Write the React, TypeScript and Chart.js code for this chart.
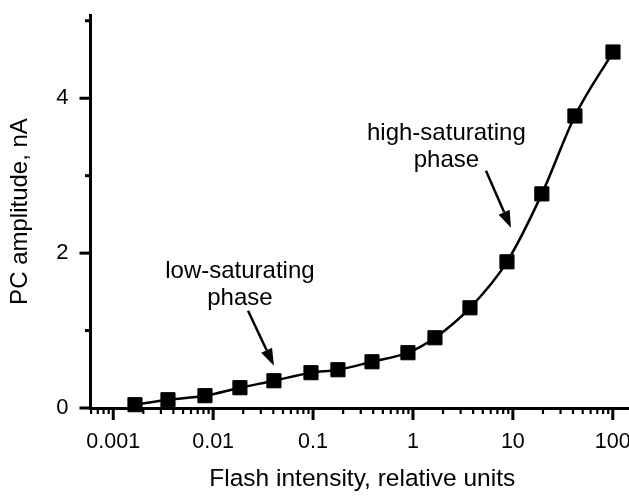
import React, { useEffect, useRef } from 'react';
import { Chart, registerables } from 'chart.js';

Chart.register(...registerables);

// ---- data ----
const intensities = [0.00165, 0.00353, 0.00828, 0.01854, 0.0406, 0.0953, 0.1775, 0.389, 0.891, 1.66, 3.72, 8.73, 19.5, 41.8, 100.5];
const amplitudes = [0.043, 0.107, 0.159, 0.262, 0.352, 0.456, 0.494, 0.597, 0.714, 0.907, 1.294, 1.888, 2.765, 3.771, 4.597];

const xMajorTicks = [0.001, 0.01, 0.1, 1, 10, 100];
const xMajorLabels = ['0.001', '0.01', '0.1', '1', '10', '100'];
const yTicks = [0, 1, 2, 3, 4, 5];
const yTickLabels = ['0', '', '2', '', '4', ''];

const xTitle = 'Flash intensity, relative units';
const yTitle = 'PC amplitude, nA';

const annotationTexts = [
  ['low-saturating', 'phase'],
  ['high-saturating', 'phase'],
];
// anchors in data coordinates: [text x, text y, arrow start x, y, arrow tip x, y]
const annotationAnchors = [
  [0.01854, 1.77, 0.02234, 1.256, 0.04055, 0.547],
  [2.16, 3.54, 5.38, 3.065, 9.57, 2.327],
];

const X_MIN = 0.000592;
const CANVAS_W = 634;
const CANVAS_H = 497;
const X_MAX = Math.pow(10, -3.228 + (CANVAS_W - 90.5) / 99.9);
const Y_MAX = 5.075;

const FONT = "'Liberation Sans', Arial, Helvetica, sans-serif";

function buildXTicks() {
  const out: { value: number; major: boolean }[] = [];
  for (let e = -4; e <= 2; e++) {
    for (let k = 1; k <= 9; k++) {
      const v = k === 1 ? Math.pow(10, e) : k * Math.pow(10, e);
      if (v >= X_MIN && v <= X_MAX) out.push({ value: v, major: k === 1 });
    }
  }
  return out;
}

const customDraw = {
  id: 'customDraw',
  afterDraw(chart: any) {
    const { ctx, chartArea } = chart;
    const x = chart.scales.x;
    const y = chart.scales.y;
    ctx.save();
    ctx.strokeStyle = '#000';
    ctx.lineCap = 'butt';
    // x ticks
    for (const t of x.ticks) {
      const px = x.getPixelForValue(t.value);
      const len = t.major ? 12 : 6;
      ctx.lineWidth = t.major ? 3 : 2.2;
      ctx.beginPath();
      ctx.moveTo(px, chartArea.bottom);
      ctx.lineTo(px, chartArea.bottom + len);
      ctx.stroke();
    }
    // y ticks
    y.ticks.forEach((t: any, i: number) => {
      const py = y.getPixelForValue(t.value);
      const major = yTickLabels[i] !== '';
      const len = major ? 11 : 5.5;
      ctx.lineWidth = 3;
      ctx.beginPath();
      ctx.moveTo(chartArea.left, py);
      ctx.lineTo(chartArea.left - len, py);
      ctx.stroke();
    });
    // annotations
    ctx.fillStyle = '#000';
    ctx.font = `24px ${FONT}`;
    ctx.textAlign = 'center';
    ctx.textBaseline = 'middle';
    annotationTexts.forEach((lines, i) => {
      const a = annotationAnchors[i];
      const tx = x.getPixelForValue(a[0]);
      const ty = y.getPixelForValue(a[1]);
      lines.forEach((ln, j) => ctx.fillText(ln, tx, ty + j * 27));
      const sx = x.getPixelForValue(a[2]);
      const sy = y.getPixelForValue(a[3]);
      const ex = x.getPixelForValue(a[4]);
      const ey = y.getPixelForValue(a[5]);
      const ang = Math.atan2(ey - sy, ex - sx);
      const headLen = 17;
      const headHalf = 6;
      const bx = ex - headLen * Math.cos(ang);
      const by = ey - headLen * Math.sin(ang);
      ctx.lineWidth = 2.5;
      ctx.beginPath();
      ctx.moveTo(sx, sy);
      ctx.lineTo(bx, by);
      ctx.stroke();
      ctx.beginPath();
      ctx.moveTo(ex, ey);
      ctx.lineTo(bx + headHalf * Math.sin(ang), by - headHalf * Math.cos(ang));
      ctx.lineTo(bx - headHalf * Math.sin(ang), by + headHalf * Math.cos(ang));
      ctx.closePath();
      ctx.fill();
    });
    ctx.restore();
  },
};

const hiddenGrid = (len: number) => ({
  display: true,
  drawOnChartArea: false,
  drawTicks: true,
  tickLength: len,
  tickColor: 'rgba(0,0,0,0)',
  color: 'rgba(0,0,0,0)',
});

export default function App() {
  const ref = useRef<HTMLCanvasElement>(null);
  useEffect(() => {
    if (!ref.current) return;
    const chart = new Chart(ref.current, {
      type: 'line',
      data: {
        datasets: [
          {
            data: intensities.map((v, i) => ({ x: v, y: amplitudes[i] })),
            borderColor: '#000',
            backgroundColor: '#000',
            borderWidth: 2.5,
            pointStyle: 'rect',
            pointRadius: 10,
            pointBorderWidth: 1,
            pointBackgroundColor: '#000',
            pointBorderColor: '#000',
            cubicInterpolationMode: 'monotone',
            fill: false,
            clip: false,
          },
        ],
      },
      options: {
        responsive: false,
        animation: false,
        devicePixelRatio: 1,
        layout: { padding: { top: 15, left: 0, right: 0, bottom: 0 }, autoPadding: false },
        plugins: { legend: { display: false }, tooltip: { enabled: false } },
        scales: {
          x: {
            type: 'logarithmic',
            position: 'bottom',
            min: X_MIN,
            max: X_MAX,
            afterBuildTicks: (s: any) => {
              s.ticks = buildXTicks();
            },
            afterFit: (s: any) => {
              s.height = CANVAS_H - 408;
            },
            grid: hiddenGrid(21),
            border: { display: true, color: '#000', width: 3 },
            ticks: {
              autoSkip: false,
              maxRotation: 0,
              padding: 0,
              color: '#000',
              font: { family: FONT, size: 21.5 },
              callback: (v: any) => {
                const idx = xMajorTicks.findIndex((m) => Math.abs(Math.log10(m) - Math.log10(Number(v))) < 1e-6);
                return idx >= 0 ? xMajorLabels[idx] : [];
              },
            },
            title: {
              display: true,
              text: xTitle,
              color: '#000',
              font: { family: FONT, size: 24.5 },
              padding: { top: 0, bottom: 3 },
            },
          },
          y: {
            type: 'linear',
            min: 0,
            max: Y_MAX,
            afterBuildTicks: (s: any) => {
              s.ticks = yTicks.map((v) => ({ value: v }));
            },
            afterFit: (s: any) => {
              s.width = 90.5;
            },
            grid: hiddenGrid(22),
            border: { display: true, color: '#000', width: 3 },
            ticks: {
              autoSkip: false,
              padding: 0,
              color: '#000',
              font: { family: FONT, size: 22 },
              callback: (_v: any, i: number) => (yTickLabels[i] === '' ? [] : yTickLabels[i]),
            },
            title: {
              display: true,
              text: yTitle,
              color: '#000',
              font: { family: FONT, size: 24 },
              padding: { top: 6, bottom: 0 },
            },
          },
        },
      },
      plugins: [customDraw],
    } as any);
    return () => chart.destroy();
  }, []);
  return (
    <div style={{ position: 'fixed', left: 0, top: 0, width: 629, height: 497, overflow: 'hidden', background: '#fff' }}>
      <canvas ref={ref} width={CANVAS_W} height={CANVAS_H} style={{ width: CANVAS_W, height: CANVAS_H, display: 'block' }} />
    </div>
  );
}
